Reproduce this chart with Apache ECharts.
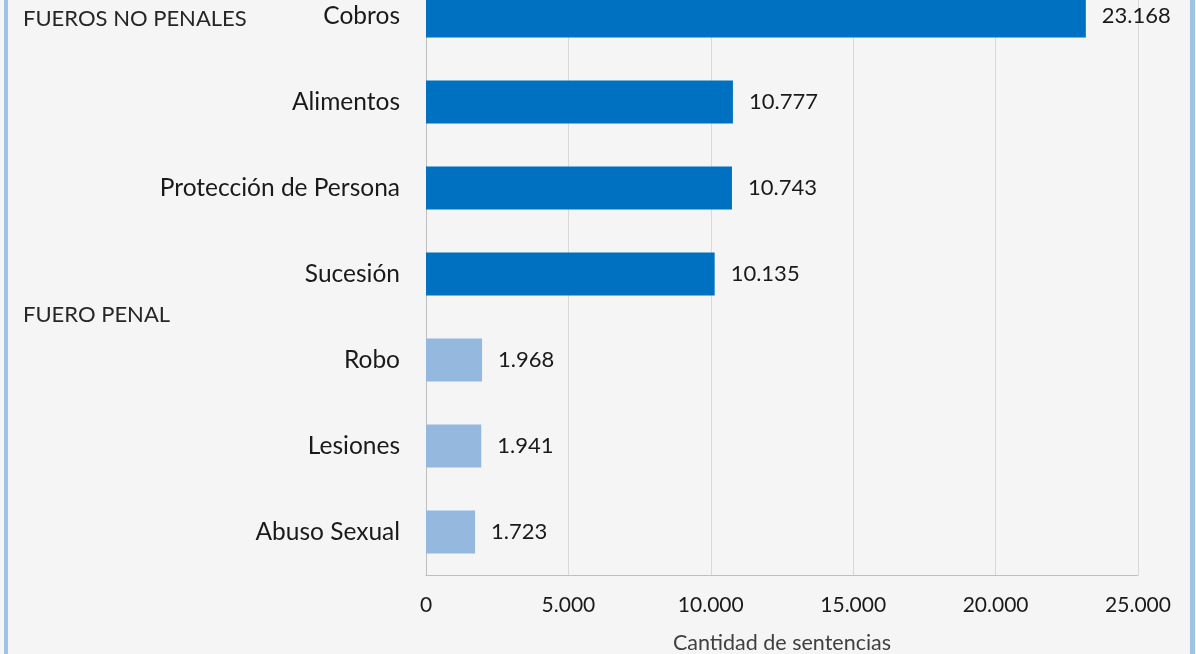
<!DOCTYPE html>
<html>
<head>
<meta charset="utf-8">
<script src="https://cdn.jsdelivr.net/npm/echarts@6/dist/echarts.min.js"></script>
<style>
html,body{margin:0;padding:0;background:#f5f5f5;}
#chart{width:1196px;height:654px;}
</style>
</head>
<body>
<div id="chart"></div>
<script>
var categories = ['Cobros', 'Alimentos', 'Protección de Persona', 'Sucesión', 'Robo', 'Lesiones', 'Abuso Sexual'];
var values = [23168, 10777, 10743, 10135, 1968, 1941, 1723];
var groups = ['no_penal', 'no_penal', 'no_penal', 'no_penal', 'penal', 'penal', 'penal'];
var groupColors = { no_penal: '#0070C0', penal: '#95B8DF' };
var xTicks = { min: 0, max: 25000, interval: 5000 };
var sectionTitles = ['FUEROS NO PENALES', 'FUERO PENAL'];
var axisName = 'Cantidad de sentencias';

function fmt(v) {
  return String(v).replace(/\B(?=(\d{3})+(?!\d))/g, '.');
}

var FONT = 'Lato, "Open Sans", sans-serif';
var chart = echarts.init(document.getElementById('chart'));
chart.setOption({
  backgroundColor: '#f5f5f5',
  animation: false,
  grid: { left: 426, right: 58, top: -27, bottom: 79, outerBoundsMode: 'none', containLabel: false },
  xAxis: {
    type: 'value',
    min: xTicks.min, max: xTicks.max, interval: xTicks.interval,
    name: axisName,
    nameLocation: 'middle',
    nameGap: 57,
    nameTextStyle: { fontFamily: FONT, fontSize: 21.5, color: '#404040' },
    axisLine: { show: true, lineStyle: { color: '#bfbfbf', width: 1 } },
    axisTick: { show: false },
    splitLine: { show: true, lineStyle: { color: '#d9d9d9', width: 1 } },
    axisLabel: { fontFamily: FONT, fontSize: 21, color: '#1a1a1a', margin: 20, formatter: fmt }
  },
  yAxis: {
    type: 'category',
    data: categories,
    inverse: true,
    axisLine: { show: true, lineStyle: { color: '#bfbfbf', width: 1 } },
    axisTick: { show: false },
    axisLabel: { fontFamily: FONT, fontSize: 24.5, color: '#1a1a1a', margin: 26 }
  },
  series: [{
    type: 'bar',
    barWidth: '50%',
    data: values.map(function (v, i) {
      return { value: v, itemStyle: { color: groupColors[groups[i]] } };
    }),
    label: {
      show: true,
      position: 'right',
      distance: 16,
      fontFamily: FONT,
      fontSize: 22,
      color: '#1a1a1a',
      formatter: function (p) { return fmt(p.value); }
    }
  }],
  graphic: [
    { type: 'rect', left: 4, top: 0, shape: { width: 4, height: 654 }, style: { fill: '#9DC3E6' } },
    { type: 'rect', left: 1190, top: 0, shape: { width: 5, height: 654 }, style: { fill: '#9DC3E6' } },
    { type: 'text', left: 23, top: 8, style: { text: sectionTitles[0], font: '22px ' + FONT, fill: '#262626' } },
    { type: 'text', left: 23, top: 304, style: { text: sectionTitles[1], font: '22px ' + FONT, fill: '#262626' } }
  ]
});
</script>
</body>
</html>
